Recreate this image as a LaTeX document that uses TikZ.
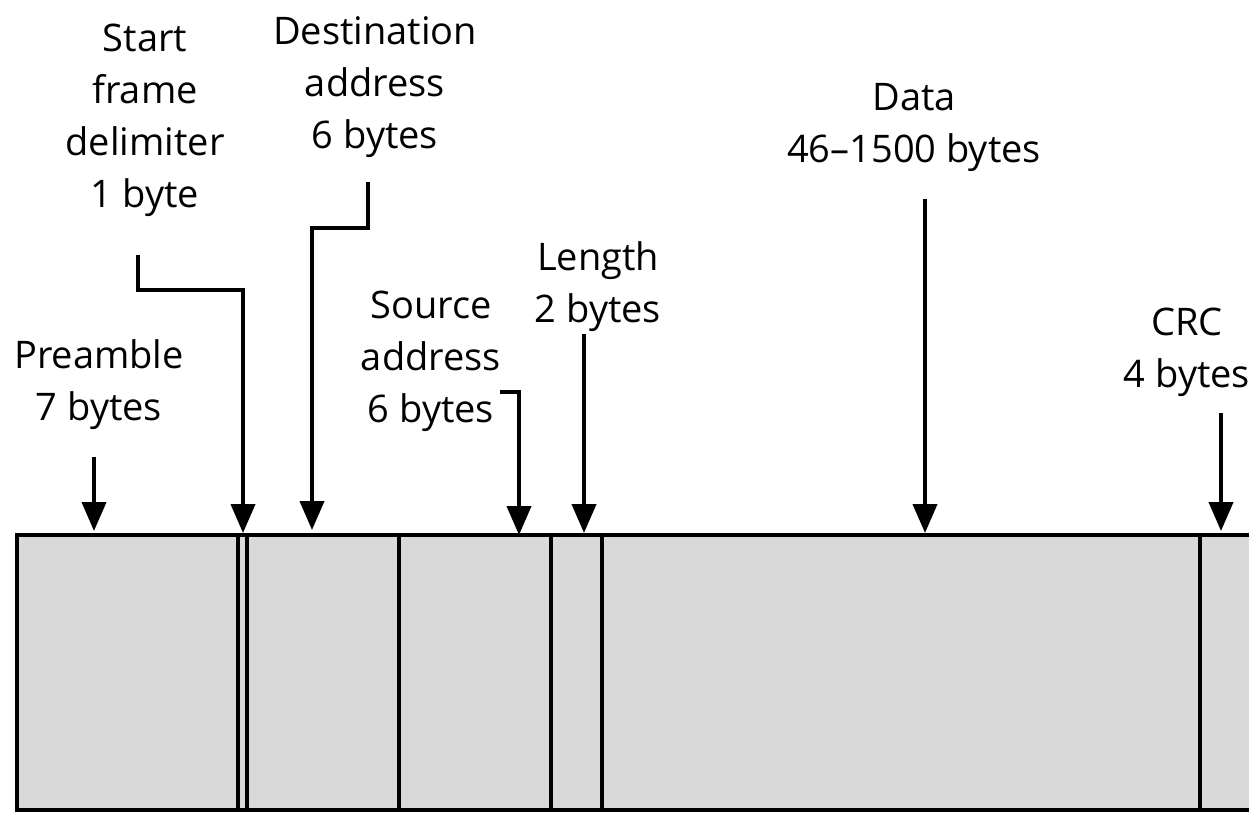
\documentclass[tikz,border=0pt]{standalone}
\usepackage{fontspec}
\setmainfont{Open Sans}
\usetikzlibrary{arrows.meta}
\definecolor{fieldgray}{HTML}{D9D9D9}
\begin{document}
\begin{tikzpicture}[x=1pt,y=-1pt,
  lbl/.style={align=center, font=\fontsize{38}{52}\selectfont, inner sep=0pt, anchor=base},
  arr/.style={line width=4pt, -{Triangle[width=24pt,length=29pt]}},
  fld/.style={draw=black, line width=4pt, fill=fieldgray, anchor=north west, outer sep=0pt, inner sep=0pt, minimum height=275pt}]
\useasboundingbox (0,0) rectangle (1249,812);
\clip (0,0) rectangle (1249,812);
% fields
\node[fld, minimum width=221pt] (pre) at (17,535) {};
\node[fld, minimum width=9pt]   (sfd) at (238,535) {};
\node[fld, minimum width=152pt] (da)  at (247,535) {};
\node[fld, minimum width=152pt] (sa)  at (399,535) {};
\node[fld, minimum width=51pt]  (len) at (551,535) {};
\node[fld, minimum width=598pt] (data) at (602,535) {};
\node[fld, minimum width=100pt] (crc) at (1200,535) {};
% labels (anchored at the baseline of their last line)
\node[lbl] (lsfd) at (145,207) {Start\\frame\\delimiter\\1 byte};
\node[lbl] (lda) at (375,148) {Destination\\address\\6 bytes};
\node[lbl] (ldata) at (914,162) {Data\\46–1500 bytes};
\node[lbl] (llen) at (598,322) {Length\\2 bytes};
\node[lbl] (lsa) at (431,422) {Source\\address\\6 bytes};
\node[lbl] (lpre) at (99,420) {Preamble\\7 bytes};
\node[lbl] (lcrc) at (1187,387) {CRC\\4 bytes};
% arrow coordinates
\coordinate (pre0) at (94,457);   \coordinate (pre1) at (94,531);
\coordinate (sfd0) at (138,255);  \coordinate (sfd1) at (243,533);
\coordinate (da0) at (368,182);   \coordinate (da1) at (312,530);
\coordinate (sa0) at (500,392);   \coordinate (sa1) at (519,535);
\coordinate (len0) at (584,334);  \coordinate (len1) at (584,533);
\coordinate (data0) at (925,199); \coordinate (data1) at (925,533);
\coordinate (crc0) at (1221,413); \coordinate (crc1) at (1221,531);
\draw[arr] (pre0) -- (pre1);
\draw[arr] (sfd0) |- (243,290) -- (sfd1);
\draw[arr] (da0) |- (312,228) -- (da1);
\draw[arr] (sa0) -| (sa1);
\draw[arr] (len0) -- (len1);
\draw[arr] (data0) -- (data1);
\draw[arr] (crc0) -- (crc1);
\end{tikzpicture}
\end{document}
